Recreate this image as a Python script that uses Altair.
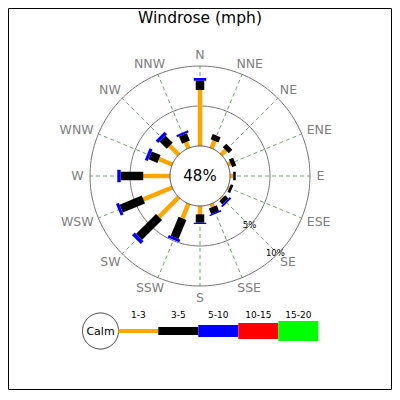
import math
import altair as alt
import pandas as pd

# ---------------- data ----------------
directions = ["N", "NNE", "NE", "ENE", "E", "ESE", "SE", "SSE",
              "S", "SSW", "SW", "WSW", "W", "WNW", "NW", "NNW"]
speed_bins = ["1-3", "3-5", "5-10", "10-15", "15-20"]
bin_colors = ["#ffa500", "#000000", "#0000ff", "#ff0000", "#00ff00"]
bin_widths = [4.5, 8.5, 12.5, 16.5, 20.5]

# percent of time per direction for each speed bin (mph)
pct_1_3 = [7.0, 1.0, 0.8, 0.38, 0.4, 0.2, 0.19, 0.44,
           1.04, 1.98, 3.5, 3.91, 3.34, 1.8, 1.6, 0.83]
pct_3_5 = [1.16, 0.7, 0.63, 0.56, 0.32, 0.35, 0.56, 0.75,
           1.05, 2.57, 3.5, 3.0, 2.82, 1.2, 1.25, 1.0]
pct_5_10 = [0.34, 0.0, 0.0, 0.0, 0.0, 0.0, 0.25, 0.19,
            0.16, 0.35, 0.5, 0.39, 0.43, 0.4, 0.45, 0.27]
pct_10_15 = [0.0] * 16
pct_15_20 = [0.0] * 16
calm_pct = 48
ring_pcts = [5, 10]
ring_labels = ["5%", "10%"]
title_text = "Windrose (mph)"

# ---------------- layout (units: 1 unit = 1 % = 8 px) ----------------
PX = 8.0
CALM_R = 30 / PX          # calm circle radius
LABEL_R = 116.5 / PX      # direction label anchor radius
LABEL_FS = 12.5
CHAR_W = {"N": 0.748, "E": 0.632, "S": 0.635, "W": 0.989}
W_CH, H_CH = 383, 381

xs = alt.Scale(domain=[-192 / PX, (W_CH - 192) / PX], nice=False, zero=False)
ys = alt.Scale(domain=[-(H_CH - 168) / PX, 168 / PX], nice=False, zero=False)

def X(f="x"):
    return alt.X(f"{f}:Q", scale=xs, axis=None)

def Y(f="y"):
    return alt.Y(f"{f}:Q", scale=ys, axis=None)

series = [pct_1_3, pct_3_5, pct_5_10, pct_10_15, pct_15_20]

# bars
bar_rows = []
for i, d in enumerate(directions):
    th = math.radians(i * 22.5)
    s, c = math.sin(th), math.cos(th)
    cum = 0.0
    for b in range(len(speed_bins)):
        v = series[b][i]
        if v > 0:
            r0 = CALM_R + cum
            r1 = CALM_R + cum + v
            bar_rows.append(dict(dir=d, bin=speed_bins[b], order=b,
                                 x=r0 * s, y=r0 * c, x2=r1 * s, y2=r1 * c,
                                 color=bin_colors[b], width=bin_widths[b]))
        cum += v
bars_df = pd.DataFrame(bar_rows)

# spokes
spoke_rows = []
for i, d in enumerate(directions):
    th = math.radians(i * 22.5)
    s, c = math.sin(th), math.cos(th)
    r1 = CALM_R + ring_pcts[-1]
    spoke_rows.append(dict(dir=d, x=CALM_R * s, y=CALM_R * c, x2=r1 * s, y2=r1 * c))
spokes_df = pd.DataFrame(spoke_rows)

# circles (rings + calm)
def circle_rows(name, cx, cy, r):
    rows = []
    for k in range(0, 181):
        a = math.radians(k * 2)
        rows.append(dict(ring=name, k=k, x=cx + r * math.sin(a), y=cy + r * math.cos(a)))
    return rows

ring_rows = []
for p in ring_pcts:
    ring_rows += circle_rows(f"r{p}", 0, 0, CALM_R + p)
rings_df = pd.DataFrame(ring_rows)
calm_df = pd.DataFrame(circle_rows("calm", 0, 0, CALM_R))

# direction labels
lab_rows = []
for i, d in enumerate(directions):
    th = math.radians(i * 22.5)
    s, c = math.sin(th), math.cos(th)
    w = sum(CHAR_W[ch] for ch in d) * LABEL_FS / PX
    h = 10 / PX
    lab_rows.append(dict(text=d, x=LABEL_R * s + w / 2 * s, y=LABEL_R * c + h / 2 * c))
labels_df = pd.DataFrame(lab_rows)

# ring percentage labels (along SE)
th = math.radians(135)
ringlab_df = pd.DataFrame([dict(text=t, x=(CALM_R + p) * math.sin(th) - (0.3 if p == 10 else 0),
                                y=(CALM_R + p) * math.cos(th) + (0.15 if p == 10 else 0))
                           for p, t in zip(ring_pcts, ring_labels)])

center_df = pd.DataFrame([dict(text=f"{calm_pct}%", x=0, y=0)])
title_df = pd.DataFrame([dict(text=title_text, x=0, y=153 / PX)])

# legend
LEG_Y = -155 / PX
LEG_CX = -99.5 / PX
LEG_CR = 18 / PX
LEG_X0 = -81.7 / PX
SEG = 40 / PX
leg_circle_df = pd.DataFrame(circle_rows("legcalm", LEG_CX, LEG_Y, LEG_CR))
leg_calm_text = pd.DataFrame([dict(text="Calm", x=LEG_CX, y=LEG_Y - 0.5 / PX)])
leg_rows = []
for b, name in enumerate(speed_bins):
    leg_rows.append(dict(bin=name, x=LEG_X0 + b * SEG, x2=LEG_X0 + (b + 1) * SEG,
                         y=LEG_Y, xm=LEG_X0 + (b + 0.5) * SEG, ylab=LEG_Y + 13.5 / PX,
                         color=bin_colors[b], width=bin_widths[b] - 0.5))
leg_df = pd.DataFrame(leg_rows)

FONT = "DejaVu Sans"

rings = alt.Chart(rings_df).mark_line(color="#777777", strokeWidth=1).encode(
    x=X(), y=Y(), detail="ring:N", order="k:Q")
spokes = alt.Chart(spokes_df).mark_rule(color="#3d8f3d", strokeWidth=0.9,
                                        strokeDash=[4, 3], opacity=0.85).encode(
    x=X(), y=Y(), x2="x2:Q", y2="y2:Q")
bars = alt.Chart(bars_df).mark_rule(strokeCap="butt").encode(
    x=X(), y=Y(), x2="x2:Q", y2="y2:Q",
    color=alt.Color("color:N", scale=None),
    strokeWidth=alt.StrokeWidth("width:Q", scale=None),
    order="order:Q")
calm = alt.Chart(calm_df).mark_line(color="#555555", strokeWidth=1).encode(
    x=X(), y=Y(), order="k:Q")
center_txt = alt.Chart(center_df).mark_text(font=FONT, fontSize=15, color="black",
                                            baseline="middle", align="center").encode(
    x=X(), y=Y(), text="text:N")
dir_labels = alt.Chart(labels_df).mark_text(font=FONT, fontSize=LABEL_FS, color="#808080",
                                            baseline="middle", align="center").encode(
    x=X(), y=Y(), text="text:N")
ring_labels_m = alt.Chart(ringlab_df).mark_text(font=FONT, fontSize=8.5, color="black",
                                                baseline="middle", align="center").encode(
    x=X(), y=Y(), text="text:N")
title = alt.Chart(title_df).mark_text(font=FONT, fontSize=15.5, color="black",
                                      baseline="alphabetic", align="center").encode(
    x=X(), y=Y(), text="text:N")
leg_circle = alt.Chart(leg_circle_df).mark_line(color="#333333", strokeWidth=1).encode(
    x=X(), y=Y(), order="k:Q")
leg_calm = alt.Chart(leg_calm_text).mark_text(font=FONT, fontSize=11, color="black",
                                              baseline="middle", align="center").encode(
    x=X(), y=Y(), text="text:N")
leg_segs = alt.Chart(leg_df).mark_rule(strokeCap="butt").encode(
    x=X(), x2="x2:Q", y=Y(),
    color=alt.Color("color:N", scale=None),
    strokeWidth=alt.StrokeWidth("width:Q", scale=None))
leg_labels = alt.Chart(leg_df).mark_text(font=FONT, fontSize=9, color="black",
                                         baseline="alphabetic", align="center").encode(
    x=X("xm"), y=Y("ylab"), text="bin:N")

chart = alt.layer(
    rings, spokes, bars, calm, center_txt, dir_labels, ring_labels_m, title,
    leg_circle, leg_calm, leg_segs, leg_labels
).properties(
    width=W_CH, height=H_CH, autosize="none",
    padding={"left": 0, "top": 0, "right": 1, "bottom": 1}
).configure_view(stroke="black", strokeWidth=1)

chart.save("out.html", embed_options={"renderer": "svg", "actions": False})
